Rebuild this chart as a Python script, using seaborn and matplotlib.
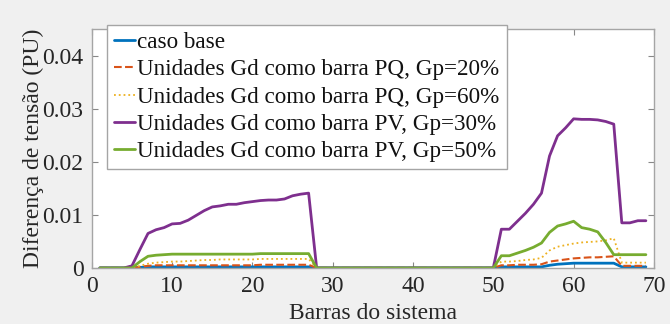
import numpy as np
import pandas as pd
import matplotlib
matplotlib.use("Agg")
import matplotlib.pyplot as plt
import seaborn as sns

# bus numbers of the system
barras = list(range(1, 70))

# voltage difference per bus (PU)
caso_base = [0, 0, 0, 0, 0, 0.0001, 0.0002, 0.0002, 0.0002, 0.0002,
             0.0002, 0.0002, 0.0002, 0.0002, 0.0002, 0.0002, 0.0002, 0.0002, 0.0002, 0.0002,
             0.0002, 0.0002, 0.0002, 0.0002, 0.0002, 0.0002, 0.0002, 0, 0, 0,
             0, 0, 0, 0, 0, 0, 0, 0, 0, 0,
             0, 0, 0, 0, 0, 0, 0, 0, 0, 0,
             0.0002, 0.0002, 0.0002, 0.0002, 0.0002, 0.0002, 0.0005, 0.0007, 0.0008, 0.0009,
             0.0009, 0.0009, 0.0009, 0.0009, 0.0009, 0.0002, 0.0002, 0.0002, 0.0002]
pq_20 = [0, 0, 0, 0, 0, 0.0002, 0.0004, 0.0005, 0.0005, 0.0005,
         0.0005, 0.0005, 0.0005, 0.0005, 0.0005, 0.0005, 0.0005, 0.0005, 0.0005, 0.0005,
         0.0006, 0.0006, 0.0006, 0.0006, 0.0006, 0.0006, 0.0006, 0, 0, 0,
         0, 0, 0, 0, 0, 0, 0, 0, 0, 0,
         0, 0, 0, 0, 0, 0, 0, 0, 0, 0,
         0.0005, 0.0005, 0.0006, 0.0006, 0.0006, 0.0007, 0.0012, 0.0014, 0.0016, 0.0018,
         0.0019, 0.002, 0.002, 0.0021, 0.0022, 0.0004, 0.0004, 0.0004, 0.0004]
pq_60 = [0, 0, 0, 0, 0, 0.0004, 0.0008, 0.001, 0.0011, 0.0012,
         0.0012, 0.0013, 0.0014, 0.0015, 0.0015, 0.0016, 0.0016, 0.0016, 0.0016, 0.0016,
         0.0017, 0.0017, 0.0017, 0.0017, 0.0017, 0.0017, 0.0017, 0, 0, 0,
         0, 0, 0, 0, 0, 0, 0, 0, 0, 0,
         0, 0, 0, 0, 0, 0, 0, 0, 0, 0,
         0.0012, 0.0012, 0.0013, 0.0015, 0.0016, 0.0019, 0.0033, 0.004, 0.0043, 0.0046,
         0.0048, 0.0049, 0.005, 0.0052, 0.0056, 0.001, 0.001, 0.001, 0.001]
pv_30 = [0, 0, 0, 0, 0.0004, 0.0035, 0.0065, 0.0072, 0.0076, 0.0083,
         0.0084, 0.009, 0.0099, 0.0108, 0.0115, 0.0117, 0.012, 0.012, 0.0123, 0.0125,
         0.0127, 0.0128, 0.0128, 0.013, 0.0136, 0.0139, 0.0141, 0, 0, 0,
         0, 0, 0, 0, 0, 0, 0, 0, 0, 0,
         0, 0, 0, 0, 0, 0, 0, 0, 0, 0,
         0.0073, 0.0073, 0.0088, 0.0103, 0.012, 0.0141, 0.0211, 0.0249, 0.0264, 0.0281,
         0.028, 0.028, 0.0279, 0.0276, 0.0271, 0.0085, 0.0085, 0.0089, 0.0089]
pv_50 = [0, 0, 0, 0, 0, 0.0012, 0.0022, 0.0024, 0.0025, 0.0026,
         0.0026, 0.0026, 0.0026, 0.0026, 0.0026, 0.0026, 0.0026, 0.0026, 0.0026, 0.0026,
         0.0027, 0.0027, 0.0027, 0.0027, 0.0027, 0.0027, 0.0027, 0, 0, 0,
         0, 0, 0, 0, 0, 0, 0, 0, 0, 0,
         0, 0, 0, 0, 0, 0, 0, 0, 0, 0,
         0.0023, 0.0023, 0.0028, 0.0033, 0.0039, 0.0047, 0.0067, 0.0079, 0.0083, 0.0088,
         0.0076, 0.0073, 0.0068, 0.0048, 0.0025, 0.0025, 0.0025, 0.0025, 0.0025]

labels = ["caso base",
          "Unidades Gd como barra PQ, Gp=20%",
          "Unidades Gd como barra PQ, Gp=60%",
          "Unidades Gd como barra PV, Gp=30%",
          "Unidades Gd como barra PV, Gp=50%"]
series = [caso_base, pq_20, pq_60, pv_30, pv_50]

sns.set_style("ticks")
plt.rcParams['font.family'] = ['Liberation Serif', 'DejaVu Serif']

fig = plt.figure(figsize=(6.7, 3.24), dpi=100, facecolor="#f0f0f0")
ax = fig.add_axes([0.137, 0.173, 0.839, 0.737])
ax.set_facecolor("white")

# MATLAB default colours
colors = ["#0072BD", "#D95319", "#EDB120", "#7E2F8E", "#77AC30"]
styles = ["-", "--", ":", "-", "-"]
widths = [2.0, 1.5, 1.3, 2.0, 2.0]

for vals, lab, c, ls, lw in zip(series, labels, colors, styles, widths):
    sns.lineplot(x=barras, y=vals, ax=ax, color=c, linestyle=ls, linewidth=lw, label=lab)

ax.set_xlim(0, 70)
ax.set_ylim(0, 0.045)
ax.set_xticks([0, 10, 20, 30, 40, 50, 60, 70])
ax.set_yticks([0, 0.01, 0.02, 0.03, 0.04])
ax.set_yticklabels(["0", "0.01", "0.02", "0.03", "0.04"])

ax.set_xlabel("Barras do sistema", fontsize=17, color="#262626", labelpad=4)
ax.set_ylabel("Diferença de tensão (PU)", fontsize=17, color="#262626", labelpad=-1)
ax.tick_params(direction="in", length=4, width=0.8, colors="#888888",
               labelcolor="#262626", labelsize=17, top=True, right=True, pad=6)
for sp in ax.spines.values():
    sp.set_color("#a5a5a5")
    sp.set_linewidth(1.0)
    sp.set_visible(True)

leg = ax.legend(loc="upper left", bbox_to_anchor=(0.16, 0.923), bbox_transform=fig.transFigure,
                fontsize=16.7, frameon=True, fancybox=False, framealpha=1,
                handlelength=0.9, handletextpad=0.1, labelspacing=0.26,
                borderpad=0.3, borderaxespad=0)
leg.get_frame().set_edgecolor("#a5a5a5")
leg.get_frame().set_linewidth(1.0)
for t in leg.get_texts():
    t.set_color("#111111")

fig.savefig("out.png", dpi=100, facecolor=fig.get_facecolor())
